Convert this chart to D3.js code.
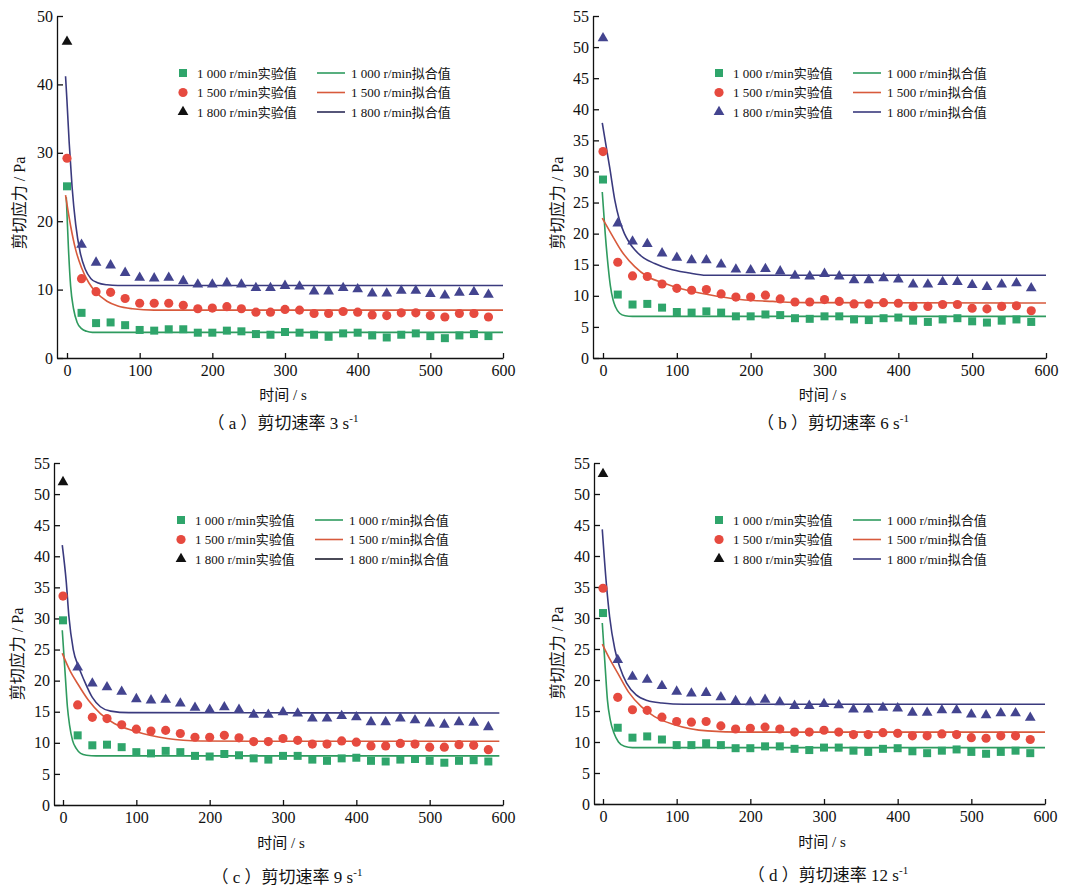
<!DOCTYPE html>
<html><head><meta charset="utf-8">
<script src="https://cdn.jsdelivr.net/npm/d3@7"></script>
<style>body{margin:0;background:#fff}svg{display:block}</style>
</head><body>
<svg id="chart" width="1077" height="887"></svg>
<script>
// ---------------- DATA ----------------
const times = [0,20,40,60,80,100,120,140,160,180,200,220,240,260,280,300,320,340,360,380,400,420,440,460,480,500,520,540,560,580];
const xTickValues = [0,100,200,300,400,500,600];
const yTicksA = [0,10,20,30,40,50];
const yTicks55 = [0,5,10,15,20,25,30,35,40,45,50,55];
const speedLabels = ["1 000","1 500","1 800"];
const panelLetters = ["a","b","c","d"];
const shearRates = ["3","6","9","12"];

// (a) shear rate 3 s-1
const expA1000 = [25.1,6.6,5.1,5.2,4.8,4.1,4.0,4.2,4.2,3.7,3.7,4.0,3.9,3.5,3.4,3.8,3.7,3.4,3.1,3.6,3.7,3.3,3.0,3.4,3.6,3.2,2.9,3.3,3.5,3.2];
const expA1500 = [29.2,11.6,9.7,9.6,8.7,8.0,8.0,8.0,7.7,7.2,7.3,7.5,7.2,6.7,6.7,7.1,7.0,6.5,6.5,6.8,6.7,6.3,6.2,6.6,6.6,6.2,6.0,6.5,6.5,6.0];
const expA1800 = [46.4,16.7,14.1,13.7,12.6,11.9,11.8,11.9,11.4,10.9,10.9,11.1,10.9,10.4,10.4,10.7,10.6,9.9,9.9,10.4,10.2,9.6,9.6,10.0,10.0,9.5,9.3,9.7,9.8,9.4];
const fitA1000T = [-1,2,5,9,14,20,27,35,600];
const fitA1000V = [23.5,16,10.5,7.2,5.2,4.3,3.9,3.75,3.75];
const fitA1500T = [-2,5,12,20,30,40,55,70,90,120,600];
const fitA1500V = [23.8,19.3,15.8,13.2,11.0,9.6,8.3,7.6,7.2,7.0,7.0];
const fitA1800T = [-2,0,3,7,12,18,25,33,42,55,70,600];
const fitA1800V = [41.2,37.5,31.5,25,19.5,15.5,13,11.6,11.0,10.7,10.6,10.6];

// (b) shear rate 6 s-1
const expB1000 = [28.7,10.2,8.6,8.7,8.1,7.4,7.3,7.5,7.3,6.7,6.7,7.0,6.9,6.4,6.3,6.7,6.7,6.2,6.1,6.4,6.5,6.0,5.8,6.2,6.4,5.9,5.7,6.0,6.2,5.8];
const expB1500 = [33.2,15.4,13.2,13.1,11.9,11.2,10.9,11.0,10.3,9.8,9.8,10.1,9.5,9.0,9.0,9.4,9.1,8.7,8.7,8.9,8.8,8.3,8.3,8.6,8.6,8.0,7.9,8.3,8.4,7.6];
const expB1800 = [51.6,21.8,18.9,18.5,17.0,16.3,15.9,15.9,15.2,14.4,14.3,14.5,14.1,13.4,13.3,13.7,13.3,12.7,12.7,13.0,12.8,12.0,12.0,12.4,12.4,11.9,11.6,12.0,12.2,11.4];
const fitB1000T = [-1,3,7,10,13.5,17,22.5,30,40,600];
const fitB1000V = [26.7,20,14.7,11.6,9.4,8.2,7.2,6.8,6.7,6.7];
const fitB1500T = [-1,11,25,43,60,84,110,142,186,230,276,600];
const fitB1500V = [22.5,20,17.2,14.7,13.1,12,11.0,10.2,9.4,9.1,8.9,8.85];
const fitB1800T = [-1,5,9,16,22,29,36,43,55,70,90,115,140,600];
const fitB1800V = [37.8,33.5,30.7,25.4,22.3,20,18.5,17.4,16.1,15.2,14.3,13.7,13.3,13.3];

// (c) shear rate 9 s-1
const expC1000 = [29.7,11.2,9.6,9.7,9.3,8.5,8.3,8.7,8.5,7.9,7.8,8.2,8.0,7.5,7.3,7.9,7.9,7.3,7.1,7.5,7.6,7.1,7.0,7.3,7.4,7.1,6.8,7.1,7.2,7.0];
const expC1500 = [33.6,16.1,14.1,13.9,12.9,12.2,11.9,12.0,11.5,10.9,10.9,11.2,10.8,10.2,10.2,10.7,10.4,9.8,9.8,10.3,10.1,9.5,9.5,9.9,9.8,9.3,9.3,9.7,9.6,8.9];
const expC1800 = [52.1,22.3,19.7,19.1,18.4,17.2,17.0,17.1,16.5,15.8,15.5,15.9,15.5,14.7,14.7,15.1,14.9,14.1,14.1,14.5,14.3,13.5,13.5,14.1,13.8,13.3,13.1,13.5,13.4,12.7];
const fitC1000T = [-1,3,6,9,13,18,24,32,45,595];
const fitC1000V = [28.1,21,15.8,12.8,10.4,9.1,8.3,8.0,7.9,7.9];
const fitC1500T = [-1,10,20,35,51,70,97,142,188,260,595];
const fitC1500V = [24.4,21.5,19.5,16.8,14.7,13.1,11.9,10.7,10.3,10.25,10.25];
const fitC1800T = [-1,4.5,8,14,21,29,40,51,65,90,595];
const fitC1800V = [41.8,35.8,30.4,25,22.3,20,17.3,15.8,15.1,14.85,14.8];

// (d) shear rate 12 s-1
const expD1000 = [30.8,12.3,10.7,10.9,10.4,9.5,9.5,9.8,9.5,9.0,9.0,9.3,9.3,8.9,8.7,9.1,9.1,8.6,8.4,8.9,9.0,8.5,8.2,8.6,8.8,8.4,8.1,8.4,8.6,8.2];
const expD1500 = [34.8,17.2,15.2,15.1,14.0,13.3,13.2,13.3,12.6,12.1,12.2,12.4,12.1,11.6,11.6,11.9,11.6,11.2,11.2,11.5,11.4,11.0,11.0,11.3,11.2,10.7,10.6,11.0,11.0,10.4];
const expD1800 = [53.4,23.4,20.7,20.2,19.2,18.3,18.0,18.1,17.4,16.8,16.6,17.0,16.6,16.0,16.0,16.3,16.1,15.4,15.4,15.7,15.6,14.9,14.9,15.3,15.3,14.6,14.5,14.8,14.8,14.1];
const fitD1000T = [-1,3,6,10,15,21,29,40,600];
const fitD1000V = [29.2,22,16.8,13.5,11.4,10,9.3,9.1,9.1];
const fitD1500T = [-1,10,20,35,52,70,97,142,190,600];
const fitD1500V = [25.8,23.2,21.1,18,15.7,14.1,12.8,11.8,11.6,11.6];
const fitD1800T = [-1,4.5,9,16,23,32,45,60,80,110,600];
const fitD1800V = [44.3,35.6,30.2,25,22,19.5,17.6,16.7,16.3,16.1,16.1];

// ---------------- LAYOUT / STYLE ----------------
const C = {sq:"#2fa56b", ci:"#e64a3f", tri:"#43448f", triBlack:"#111111",
           lg:"#2f9b5f", lr:"#d85a3c", lb:"#3a3a7e"};
const serif = "'Liberation Serif', 'Noto Sans CJK SC', serif";
const panels = [
  {exp:[expA1000,expA1500,expA1800], fitT:[fitA1000T,fitA1500T,fitA1800T], fitV:[fitA1000V,fitA1500V,fitA1800V],
   yTicks:yTicksA, yMax:50, axisX:57, xZero:67, x600:503, yTop:16, yBot:358,
   firstTri:C.triBlack, legTri:C.triBlack, legBlue:"#2c2c58",
   legX:183, legY:73, yTitleX:20, yTitleY:203, xTitleY:395, capX:283, capY:423},
  {exp:[expB1000,expB1500,expB1800], fitT:[fitB1000T,fitB1500T,fitB1800T], fitV:[fitB1000V,fitB1500V,fitB1800V],
   yTicks:yTicks55, yMax:55, axisX:593, xZero:603, x600:1046, yTop:16, yBot:358,
   firstTri:C.tri, legTri:C.tri, legBlue:C.lb,
   legX:719, legY:73, yTitleX:558, yTitleY:203, xTitleY:395, capX:833, capY:423},
  {exp:[expC1000,expC1500,expC1800], fitT:[fitC1000T,fitC1500T,fitC1800T], fitV:[fitC1000V,fitC1500V,fitC1800V],
   yTicks:yTicks55, yMax:55, axisX:54, xZero:63, x600:503, yTop:463, yBot:805,
   firstTri:C.triBlack, legTri:C.triBlack, legBlue:"#1c1c2c",
   legX:181, legY:520, yTitleX:18, yTitleY:654, xTitleY:843, capX:287, capY:877},
  {exp:[expD1000,expD1500,expD1800], fitT:[fitD1000T,fitD1500T,fitD1800T], fitV:[fitD1000V,fitD1500V,fitD1800V],
   yTicks:yTicks55, yMax:55, axisX:594, xZero:603, x600:1045, yTop:463, yBot:804,
   firstTri:C.triBlack, legTri:C.triBlack, legBlue:C.lb,
   legX:719, legY:520, yTitleX:558, yTitleY:653, xTitleY:842, capX:828, capY:875}
];

const svg = d3.select("#chart");

const sym = {
  sq: d3.symbol().type(d3.symbolSquare).size(64),
  ci: d3.symbol().type(d3.symbolCircle).size(66),
  tri: d3.symbol().type(d3.symbolTriangle).size(50)
};

function styleText(sel, size) {
  sel.style("font-family", serif).style("font-size", size + "px").style("fill", "#111");
}

panels.forEach((p, pi) => {
  const g = svg.append("g");
  const xmin = -(p.xZero - p.axisX) / (p.x600 - p.xZero) * 600;
  const x = d3.scaleLinear().domain([xmin, 600]).range([p.axisX, p.x600]);
  const y = d3.scaleLinear().domain([0, p.yMax]).range([p.yBot, p.yTop]);

  const xa = g.append("g").attr("transform", `translate(0,${p.yBot})`)
    .call(d3.axisBottom(x).tickValues(xTickValues).tickSize(-5).tickSizeOuter(0).tickPadding(7));
  const ya = g.append("g").attr("transform", `translate(${p.axisX},0)`)
    .call(d3.axisLeft(y).tickValues(p.yTicks).tickSize(-6).tickSizeOuter(0).tickPadding(4));
  [xa, ya].forEach(a => {
    a.selectAll("path,line").attr("stroke", "#111").attr("stroke-width", 1.3);
    styleText(a.selectAll("text"), 16);
  });

  // fitted lines
  const lineColors = [C.lg, C.lr, C.lb];
  p.fitT.forEach((ts, si) => {
    const pts = ts.map((t, i) => [t, p.fitV[si][i]]);
    g.append("path").datum(pts)
      .attr("fill", "none").attr("stroke", lineColors[si]).attr("stroke-width", 1.6)
      .attr("d", d3.line().x(d => x(d[0])).y(d => y(d[1])).curve(d3.curveMonotoneX));
  });

  // experimental points
  const kinds = ["sq", "ci", "tri"];
  const fills = [C.sq, C.ci, C.tri];
  p.exp.forEach((vals, si) => {
    g.append("g").selectAll("path").data(vals).join("path")
      .attr("transform", (v, i) => `translate(${x(times[i])},${y(v) + (si === 2 ? 1 : 0)})`)
      .attr("d", sym[kinds[si]])
      .attr("fill", (v, i) => (si === 2 && i === 0) ? p.firstTri : fills[si]);
  });

  // legend
  const lg = g.append("g");
  speedLabels.forEach((lab, si) => {
    const yy = p.legY + si * 19.5;
    lg.append("path").attr("transform", `translate(${p.legX},${yy})`)
      .attr("d", sym[kinds[si]]).attr("fill", si === 2 ? p.legTri : fills[si]);
    styleText(lg.append("text").attr("x", p.legX + 14).attr("y", yy + 4.5).text(lab + " r/min实验值"), 13);
    lg.append("line").attr("x1", p.legX + 134).attr("x2", p.legX + 162)
      .attr("y1", yy).attr("y2", yy)
      .attr("stroke", si === 2 ? p.legBlue : lineColors[si]).attr("stroke-width", 1.6);
    styleText(lg.append("text").attr("x", p.legX + 168).attr("y", yy + 4.5).text(lab + " r/min拟合值"), 13);
  });

  // axis titles
  styleText(g.append("text").attr("x", (p.xZero + p.x600) / 2 - 2).attr("y", p.xTitleY + 5)
    .attr("text-anchor", "middle").text("时间 / s"), 15);
  styleText(g.append("text").attr("transform", `translate(${p.yTitleX + 5},${p.yTitleY}) rotate(-90)`)
    .attr("text-anchor", "middle").text("剪切应力 / Pa"), 16);

  // caption
  const cap = g.append("text").attr("x", p.capX).attr("y", p.capY + 6).attr("text-anchor", "middle");
  styleText(cap, 17);
  cap.append("tspan").text("（ " + panelLetters[pi] + " ）剪切速率 " + shearRates[pi] + " s");
  cap.append("tspan").style("font-size", "11px").attr("dy", -7).text("-1");
});
</script>
</body></html>
